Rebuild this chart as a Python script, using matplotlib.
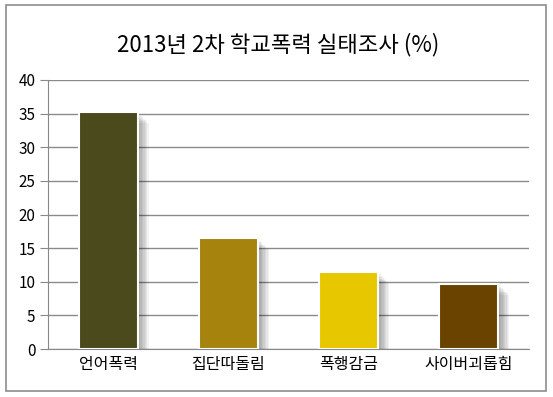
import matplotlib
matplotlib.use("Agg")
import matplotlib.pyplot as plt
import matplotlib.patheffects as pe
from matplotlib.patches import Rectangle

plt.rcParams['font.family'] = ['Noto Sans CJK KR', 'DejaVu Sans']

categories = ["언어폭력", "집단따돌림", "폭행감금", "사이버괴롭힘"]
values = [35.3, 16.5, 11.5, 9.7]
colors = ["#4b4a1d", "#a5830c", "#e6c700", "#6a4300"]
yticks = [0, 5, 10, 15, 20, 25, 30, 35, 40]

fig = plt.figure(figsize=(5.53, 3.97), dpi=100)
ax = fig.add_axes([48/553, 48/397, 481/553, 269/397])

# outer border
fig.patches.append(Rectangle((6/553, 6/397), 540/553, 386/397, transform=fig.transFigure,
                             fill=False, edgecolor="#8c8c8c", linewidth=1.2))

# soft drop shadow built from stacked offset copies
shadow = [pe.SimplePatchShadow(offset=(d, -d), shadow_rgbFace="#000000", alpha=0.05)
          for d in (0, 1, 2, 3, 4, 5, 6, 7, 8)] + [pe.Normal()]

x = range(len(categories))
bars = ax.bar(x, values, width=0.49, color=colors, edgecolor="white", linewidth=1.5, zorder=3)
for b in bars:
    b.set_path_effects(shadow)

ax.set_xlim(-0.5, 3.5)
ax.set_ylim(0, 40)
ax.set_yticks(yticks)
ax.set_xticks(list(x))
ax.set_xticklabels(categories, fontsize=11.5)
ax.tick_params(axis="y", labelsize=11, length=6, color="#888888", pad=3)
ax.tick_params(axis="x", length=0, pad=5)
ax.yaxis.grid(True, color="#8a8a8a", linewidth=1, zorder=0)
ax.set_axisbelow(True)
for s in ["top", "right"]:
    ax.spines[s].set_visible(False)
ax.spines["left"].set_color("#888888")
ax.spines["bottom"].set_color("#888888")

fig.text(278/553, (397-45)/397, "2013년 2차 학교폭력 실태조사 (%)", ha="center", va="center", fontsize=16)

fig.savefig("out.png", dpi=100)
